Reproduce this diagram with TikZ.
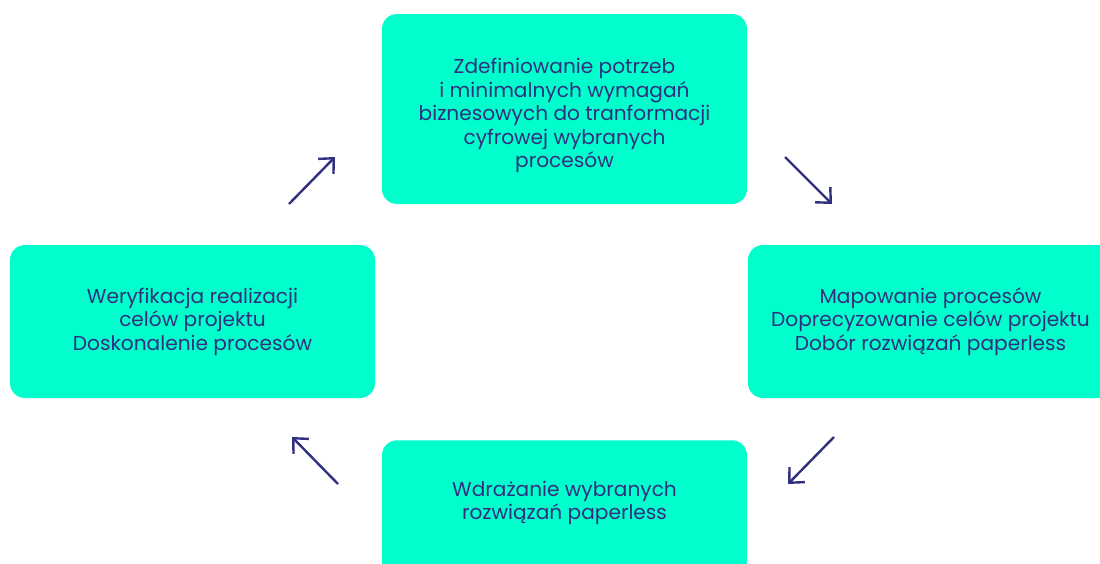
\documentclass[tikz,border=0pt]{standalone}
\usepackage{fontspec}
\setmainfont{Poppins}
\usetikzlibrary{arrows.meta}
\definecolor{mint}{HTML}{00FFCC}
\definecolor{ink}{HTML}{30307F}
\begin{document}
\begin{tikzpicture}
	[x=0.75pt,y=-0.75pt%
	,every node/.style={text=ink,%
		font=\fontsize{15.1}{17.6}\selectfont,%
		align=center}%
	,stepbox/.style={fill=mint,%
		rounded corners=11.25pt,%
		minimum width=273.75pt,%
		inner sep=0pt}%
	,cyclearrow/.style={draw=ink,%
		line width=1.8pt,%
		-{Straight Barb[length=8.5pt,width=16pt,line width=1.8pt]}}]
	\useasboundingbox (0,0) rectangle (1100,564);
	\clip (0,0) rectangle (1100,564);
	% boxes
	\node[stepbox,minimum height=142.5pt] (needs) at (564.5,109)
		{\\[4pt]Zdefiniowanie potrzeb\\ i minimalnych wymagań\\ biznesowych do tranformacji\\ cyfrowej wybranych\\ procesów};
	\node[stepbox,minimum height=114.75pt] (mapping) at (930.5,321.5)
		{Mapowanie procesów\\ Doprecyzowanie celów projektu\\ Dobór rozwiązań paperless};
	\node[stepbox,minimum height=142.5pt,anchor=north] (deploy) at (564.5,440) {};
	\node (deploytext) at (564.5,503) {Wdrażanie wybranych\\ rozwiązań paperless};
	\node[stepbox,minimum height=114.75pt] (verify) at (192.5,321.5)
		{Weryfikacja realizacji\\ celów projektu\\ Doskonalenie procesów};
	% arrows
	\coordinate (a1s) at (289,204);
	\coordinate (a1e) at (335,157);
	\coordinate (a2s) at (785,157);
	\coordinate (a2e) at (832,204);
	\coordinate (a3s) at (834,437);
	\coordinate (a3e) at (788,484);
	\coordinate (a4s) at (338,484);
	\coordinate (a4e) at (292,437);
	\foreach \s/\e in {a1s/a1e,a2s/a2e,a3s/a3e,a4s/a4e}
		\draw[cyclearrow] (\s) -- (\e);
\end{tikzpicture}
\end{document}
